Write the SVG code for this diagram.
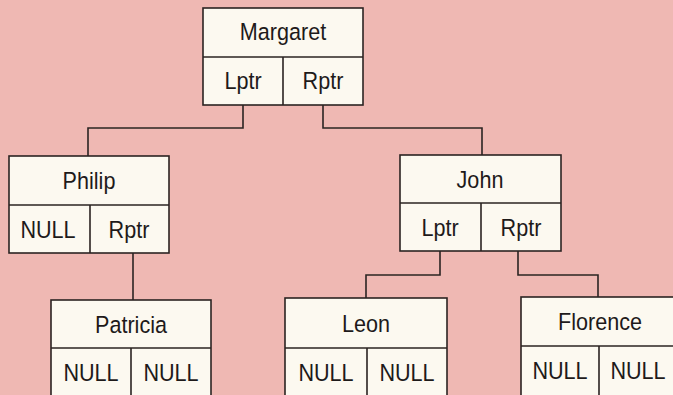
<svg xmlns="http://www.w3.org/2000/svg" width="673" height="395" viewBox="0 0 673 395">
<style>
.bg{fill:#efb8b3}
.box{fill:#fcf9f0;stroke:#2b2422;stroke-width:1.6}
.div{stroke:#2b2422;stroke-width:1.6;fill:none}
.con{stroke:#2b2422;stroke-width:1.6;fill:none}
text{font-family:"Liberation Sans",Arial,sans-serif;font-size:23.5px;fill:#1e1a1a;text-anchor:middle}
</style>
<rect class="bg" x="0" y="0" width="673" height="395"/>
<g id="connectors">
<path class="con" d="M243 105V128H88V156"/>
<path class="con" d="M323 105V128H482V155"/>
<path class="con" d="M133 253V300"/>
<path class="con" d="M440 251V275H366V298"/>
<path class="con" d="M518 251V275H598V297"/>
</g>
<g id="margaret">
<rect class="box" x="203" y="8" width="160" height="97"/>
<path class="div" d="M203 57H363M283 57V105"/>
<text transform="translate(283 40) scale(0.92 1)">Margaret</text>
<text transform="translate(243 89) scale(0.92 1)">Lptr</text>
<text transform="translate(323 89) scale(0.92 1)">Rptr</text>
</g>
<g id="philip">
<rect class="box" x="9" y="156" width="160" height="97"/>
<path class="div" d="M9 205H169M90 205V253"/>
<text transform="translate(89 189) scale(0.92 1)">Philip</text>
<text transform="translate(48 238) scale(0.92 1)">NULL</text>
<text transform="translate(129 238) scale(0.92 1)">Rptr</text>
</g>
<g id="john">
<rect class="box" x="400" y="155" width="161" height="96"/>
<path class="div" d="M400 203H561M481 203V251"/>
<text transform="translate(480 188) scale(0.92 1)">John</text>
<text transform="translate(440 236) scale(0.92 1)">Lptr</text>
<text transform="translate(521 236) scale(0.92 1)">Rptr</text>
</g>
<g id="patricia">
<rect class="box" x="51" y="300" width="160" height="97"/>
<path class="div" d="M51 348H211M131 348V397"/>
<text transform="translate(131 333) scale(0.92 1)">Patricia</text>
<text transform="translate(91 381) scale(0.92 1)">NULL</text>
<text transform="translate(171 381) scale(0.92 1)">NULL</text>
</g>
<g id="leon">
<rect class="box" x="285" y="298" width="162" height="99"/>
<path class="div" d="M285 348H447M367 348V397"/>
<text transform="translate(366 332) scale(0.92 1)">Leon</text>
<text transform="translate(326 381) scale(0.92 1)">NULL</text>
<text transform="translate(407 381) scale(0.92 1)">NULL</text>
</g>
<g id="florence">
<rect class="box" x="521" y="297" width="160" height="100"/>
<path class="div" d="M521 346H681M599 346V397"/>
<text transform="translate(600 330) scale(0.92 1)">Florence</text>
<text transform="translate(560 379) scale(0.92 1)">NULL</text>
<text transform="translate(638 379) scale(0.92 1)">NULL</text>
</g>
</svg>
